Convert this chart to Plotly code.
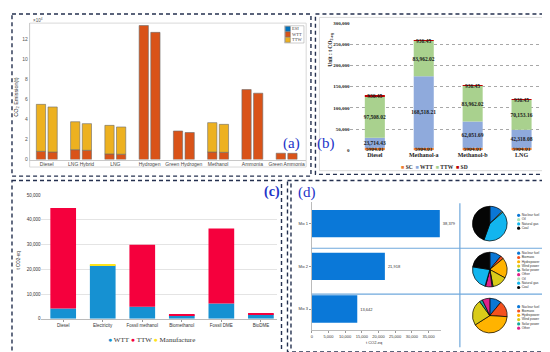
import plotly.graph_objects as go

W, H = 550, 352
def dx(a, b): return [a / W, b / W]
def dy(top, bottom): return [1 - bottom / H, 1 - top / H]
def px(x): return x / W
def py(y): return 1 - y / H

SANS = "Liberation Sans, Arial, sans-serif"
SERIF = "Liberation Serif, Times New Roman, serif"

# ---------------- data (a) : CO2 emission, x10^4 t ----------------
cats_a = ["Diesel", "LNG Hybrid", "LNG", "Hydrogen", "Green Hydrogen", "Methanol", "Ammonia", "Green Ammonia"]
wtt_a1 = [0.82, 0.98, 0.56, 13.33, 2.84, 0.75, 6.96, 0.63]
ttw_a1 = [4.67, 2.78, 2.84, 0, 0, 2.92, 0, 0]
wtt_a2 = [0.75, 0.92, 0.53, 12.65, 2.69, 0.72, 6.60, 0.62]
ttw_a2 = [4.48, 2.65, 2.71, 0, 0, 2.78, 0, 0]
legend_a = ["ESI", "WTT", "TTW"]
yticks_a = [0, 2, 4, 6, 8, 10, 12]

# ---------------- data (b) : t CO2-eq ----------------
cats_b = ["Diesel", "Methanol-a", "Methanol-b", "LNG"]
sc_b = [5904.01, 5904.01, 5904.01, 5904.01]
wtt_b = [23714.43, 168518.21, 62051.69, 42318.08]
ttw_b = [97508.02, 83962.02, 83962.02, 70153.16]
sd_b = [936.45, 936.45, 936.45, 936.45]
legend_b = ["SC", "WTT", "TTW", "SD"]

# ---------------- data (c) : t CO2-eq ----------------
cats_c = ["Diesel", "Electricity", "Fossil methanol", "Biomethanol", "Fossil DME", "BioDME"]
wtt_c = [4200, 21600, 4900, 1450, 6200, 1850]
ttw_c = [40600, 0, 25000, 380, 30300, 280]
man_c = [0, 350, 0, 0, 0, 0]
legend_c = ["WTT", "TTW", "Manufacture"]

# ---------------- data (d) ----------------
cats_d = ["Mix 1", "Mix 2", "Mix 3"]
vals_d = [38379, 21918, 13642]
pie1_labels = ["Nuclear fuel", "Oil", "Natural gas", "Coal"]
pie1_vals = [12.5, 1, 42, 44.5]
pie2_labels = ["Nuclear fuel", "Biomass", "Hydropower", "Wind power", "Solar power", "Other", "Oil", "Natural gas", "Coal"]
pie2_vals = [11, 3, 19, 14, 1, 6, 0.5, 23, 22.5]
pie3_labels = ["Nuclear fuel", "Biomass", "Hydropower", "Wind power", "Solar power", "Other"]
pie3_vals = [11, 15, 40, 24, 3, 7]

# ---------------- styles ----------------
C_ESI, C_WTT_A, C_TTW_A = "#0072BD", "#D95319", "#EDB120"
C_SC, C_WTT_B, C_TTW_B, C_SD = "#ED7D31", "#8FAADC", "#A9D18E", "#C00000"
C_WTT_C, C_TTW_C, C_MAN_C = "#1691D2", "#F5003D", "#FFE41A"
C_D = "#0A78D8"
pie_colors = {"Nuclear fuel": "#0A77D6", "Oil": "#A6E3B8", "Natural gas": "#12B5EE", "Coal": "#050505",
              "Biomass": "#F4511E", "Hydropower": "#FFB300", "Wind power": "#D9CB19",
              "Solar power": "#19A99D", "Other": "#E0218A"}

def nz(v):
    return [x if x else None for x in v]

def cum(*arrs):
    return [sum(t) for t in zip(*arrs)]

fig = go.Figure()

# ---------- panel (a) ----------
edge = dict(color="#6b6b6b", width=0.6)
for wtt, ttw, off in [(wtt_a1, ttw_a1, -0.305), (wtt_a2, ttw_a2, 0.035)]:
    fig.add_trace(go.Bar(x=cats_a, y=wtt, base=[0] * len(wtt), offset=off, width=0.27,
                         marker=dict(color=C_WTT_A, line=edge), xaxis="x", yaxis="y", name="WTT"))
    fig.add_trace(go.Bar(x=cats_a, y=nz(ttw), base=wtt, offset=off, width=0.27,
                         marker=dict(color=C_TTW_A, line=edge), xaxis="x", yaxis="y", name="TTW"))

# legend (a)
fig.add_trace(go.Scatter(x=[0] * len(legend_a), y=list(range(len(legend_a))), mode="markers+text",
                         text=legend_a, textposition="middle right", cliponaxis=False,
                         textfont=dict(family=SERIF, size=4.5, color="#444"),
                         marker=dict(symbol="square", size=5, color=[C_ESI, C_WTT_A, C_TTW_A],
                                     line=dict(color="#555", width=0.4)),
                         xaxis="x5", yaxis="y5", hoverinfo="skip"))

# ---------- panel (b) ----------
tf = dict(family=SERIF, size=5.5, color="#1a1a1a", weight="bold")
series_b = [(sc_b, C_SC, [f"{v:.2f}" for v in sc_b], [0] * 4, "SC"),
            (wtt_b, C_WTT_B, [f"{v:,.2f}" for v in wtt_b], sc_b, "WTT"),
            (ttw_b, C_TTW_B, [f"{v:,.2f}" for v in ttw_b], cum(sc_b, wtt_b), "TTW"),
            (sd_b, C_SD, [f"{v:.2f}" for v in sd_b], cum(sc_b, wtt_b, ttw_b), "SD")]
for vals, col, txt, base, nm in series_b:
    fig.add_trace(go.Bar(x=cats_b, y=vals, base=base, width=0.41, marker=dict(color=col, line=dict(width=0)),
                         text=txt, textposition="inside", insidetextanchor="middle", textangle=0,
                         constraintext="none", textfont=tf, xaxis="x2", yaxis="y2", name=nm,
                         cliponaxis=False))

# ---------- panel (c) ----------
for vals, col, base, nm in [(wtt_c, C_WTT_C, [0] * 6, "WTT"),
                            (ttw_c, C_TTW_C, wtt_c, "TTW"),
                            (man_c, C_MAN_C, cum(wtt_c, ttw_c), "Manufacture")]:
    fig.add_trace(go.Bar(x=cats_c, y=nz(vals), base=base, width=0.65,
                         marker=dict(color=col, line=dict(width=0)), xaxis="x3", yaxis="y3", name=nm))

# ---------- panel (d) ----------
fig.add_trace(go.Bar(y=cats_d, x=vals_d, orientation="h", width=0.64, marker=dict(color=C_D, line=dict(width=0)),
                     text=[f"{v:,}" for v in vals_d], textposition="outside",
                     textfont=dict(family=SANS, size=4, color="#333"), cliponaxis=False,
                     xaxis="x4", yaxis="y4"))

pie_specs = [(pie1_labels, pie1_vals, 216.7), (pie2_labels, pie2_vals, 263.3), (pie3_labels, pie3_vals, 310.0)]
R = 17.6
for labels, vals, cy in pie_specs:
    fig.add_trace(go.Pie(labels=labels, values=vals, sort=False, direction="clockwise", rotation=0,
                         textinfo="none", showlegend=False,
                         marker=dict(colors=[pie_colors[l] for l in labels], line=dict(color="#000", width=0.7)),
                         domain=dict(x=dx(481.7 - R, 481.7 + R), y=dy(cy - R, cy + R))))

# pie legends
leg_rows = [(pie1_labels, 208.3), (pie2_labels, 246.7), (pie3_labels, 301.0)]
SP = 4.35
for k, (labels, top) in enumerate(leg_rows):
    xa, ya = f"x{6 + k}", f"y{6 + k}"
    fig.add_trace(go.Scatter(x=[0] * len(labels), y=list(range(len(labels))), mode="markers+text",
                             text=labels, textposition="middle right", cliponaxis=False,
                             textfont=dict(family=SANS, size=3.3, color="#333"),
                             marker=dict(size=3.2, color=[pie_colors[l] for l in labels]),
                             xaxis=xa, yaxis=ya, hoverinfo="skip"))

# ---------- layout ----------
hid = dict(visible=False, showgrid=False, zeroline=False, fixedrange=True)
layout = dict(
    width=W, height=H, margin=dict(l=0, r=0, t=0, b=0), showlegend=False,
    paper_bgcolor="white", plot_bgcolor="rgba(0,0,0,0)", barmode="overlay",
    xaxis=dict(domain=dx(20.7, 297.7), range=[-0.5, 7.57], type="category", anchor="y",
               showline=True, linecolor="#c8c8c8", linewidth=0.8, ticks="", showgrid=False,
               tickfont=dict(family=SANS, size=5, color="#444"), ticklabelstandoff=0),
    yaxis=dict(domain=dy(13.3, 151.7), range=[0, 13.57], anchor="x", tickvals=yticks_a,
               showline=True, linecolor="#c8c8c8", linewidth=0.8, showgrid=False, zeroline=False,
               tickfont=dict(family=SANS, size=5, color="#555")),
    xaxis2=dict(domain=dx(342, 538), range=[-0.5, 3.5], type="category", anchor="y2",
                showline=False, ticks="", showgrid=False,
                tickfont=dict(family=SERIF, size=6, color="#222", weight="bold")),
    yaxis2=dict(domain=dy(13.3, 142.3), range=[0, 300000], anchor="x2", dtick=50000, tickformat=",",
                showgrid=True, gridcolor="#a8a8a8", griddash="dot", gridwidth=0.6, zeroline=False,
                tickfont=dict(family=SERIF, size=5, color="#222", weight="bold")),
    xaxis3=dict(domain=dx(32.5, 268.2), range=[-0.55, 5.4], type="category", anchor="y3",
                showline=True, linecolor="#bbb", linewidth=0.7, ticks="outside", ticklen=2,
                tickcolor="#999", showgrid=False, tickfont=dict(family=SANS, size=4.5, color="#333")),
    yaxis3=dict(domain=dy(187.7, 313.3), range=[0, 50000], anchor="x3", dtick=10000, tickformat=",",
                showgrid=True, gridcolor="#e4e4e4", gridwidth=0.6, zeroline=False,
                tickfont=dict(family=SANS, size=4.5, color="#333")),
    xaxis4=dict(domain=dx(303.3, 433), range=[0, 38800], anchor="y4", dtick=5000, tickformat=",",
                showline=True, linecolor="#bbb", linewidth=0.7, ticks="outside", ticklen=2, tickcolor="#999",
                showgrid=False, zeroline=False, tickfont=dict(family=SANS, size=4, color="#333")),
    yaxis4=dict(domain=dy(195, 325), range=[2.5, -0.5], type="category", anchor="x4",
                showline=True, linecolor="#bbb", linewidth=0.7, ticks="outside", ticklen=2, tickcolor="#999",
                showgrid=False, tickfont=dict(family=SANS, size=4, color="#333")),
    xaxis5=dict(domain=dx(276, 296), range=[-0.2, 1], anchor="y5", **hid),
    yaxis5=dict(domain=dy(16.5, 33.0), range=[2.5, -0.5], anchor="x5", **hid),
)
for k, (labels, top) in enumerate(leg_rows):
    n = len(labels)
    layout[f"xaxis{6 + k}"] = dict(domain=dx(504, 550), range=[-0.2, 1.2], anchor=f"y{6 + k}", **hid)
    layout[f"yaxis{6 + k}"] = dict(domain=dy(top - SP / 2, top - SP / 2 + n * SP), range=[n - 0.5, -0.5],
                                   anchor=f"x{6 + k}", **hid)
fig.update_layout(**layout)

# ---------- shapes ----------
navy = "#24304F"
dash = dict(color=navy, width=1.4, dash="4px,3px")
shapes = [
    dict(type="rect", xref="paper", yref="paper", x0=px(3), x1=px(302.5), y0=py(4), y1=py(168.5), line=dash),
    dict(type="rect", xref="paper", yref="paper", x0=px(307), x1=px(546), y0=py(4), y1=py(166.7), line=dash),
    dict(type="rect", xref="paper", yref="paper", x0=px(3), x1=px(273), y0=py(173), y1=py(348), line=dash),
    dict(type="rect", xref="paper", yref="paper", x0=px(279), x1=px(548), y0=py(173), y1=py(347), line=dash),
    dict(type="line", xref="paper", yref="paper", x0=px(282.5), x1=px(282.5), y0=py(176), y1=py(344), line=dash),
    # inner frames
    dict(type="rect", xref="paper", yref="paper", x0=px(20.7), x1=px(297.7), y0=py(13.3), y1=py(159.3),
         line=dict(color="#cfcfcf", width=0.8)),
    dict(type="rect", xref="paper", yref="paper", x0=px(311), x1=px(541), y0=py(7.5), y1=py(163),
         line=dict(color="#d0d0d0", width=0.8)),
    dict(type="rect", xref="paper", yref="paper", x0=px(276), x1=px(295.5), y0=py(16), y1=py(33.5),
         line=dict(color="#aaa", width=0.6), fillcolor="white", layer="below"),
    # (d) separators
    dict(type="line", xref="paper", yref="paper", x0=px(303.3), x1=px(548), y0=py(241.7), y1=py(241.7),
         line=dict(color="#6FA8DC", width=1.2)),
    dict(type="line", xref="paper", yref="paper", x0=px(303.3), x1=px(548), y0=py(288.3), y1=py(288.3),
         line=dict(color="#6FA8DC", width=1.2)),
    dict(type="line", xref="paper", yref="paper", x0=px(451.7), x1=px(451.7), y0=py(196), y1=py(342),
         line=dict(color="#6FA8DC", width=1.2)),
]
fig.update_layout(shapes=shapes)

# ---------- annotations ----------
BLUE = "#2233C8"
def ann(x, y, text, size, family=SANS, color="#333", angle=0, xanchor="center", yanchor="middle", **kw):
    return dict(x=px(x), y=py(y), xref="paper", yref="paper", text=text, showarrow=False, textangle=angle,
                font=dict(family=family, size=size, color=color, **kw), xanchor=xanchor, yanchor=yanchor)

def sw(color, sym, label):
    return f"<span style='color:{color}'>{sym}</span> {label}"

annots = [
    ann(22, 10, "×10<sup>4</sup>", 4.5, color="#555", xanchor="left"),
    ann(8, 88, "CO<sub>2</sub> Emission(t)", 5.5, color="#333", angle=-90),
    ann(283, 135, "(a)", 15, family=SERIF, color=BLUE),
    ann(318, 135, "(b)", 15, family=SERIF, color=BLUE),
    ann(322, 40, "Unit : t CO<sub>2-eq</sub>", 5.5, family=SERIF, color="#222", angle=-90, weight="bold"),
    ann(426, 159, "&nbsp;&nbsp;".join(sw(c, "■", l) for c, l in zip([C_SC, C_WTT_B, C_TTW_B, C_SD], legend_b)),
        5.5, family=SERIF, color="#222", weight="bold"),
    ann(263, 185, "(c)", 14, family=SERIF, color=BLUE, weight="bold"),
    ann(9, 253, "t CO2-eq", 4.5, color="#333", angle=-90),
    ann(143, 335, "&nbsp;".join(sw(c, "●", l) for c, l in zip([C_WTT_C, C_TTW_C, C_MAN_C], legend_c)),
        7, family=SERIF, color="#333"),
    ann(299, 185, "(d)", 15, family=SERIF, color=BLUE),
    ann(366, 337, "t CO2-eq", 4, color="#333"),
]
fig.update_layout(annotations=annots)

fig.write_html("out.html")
